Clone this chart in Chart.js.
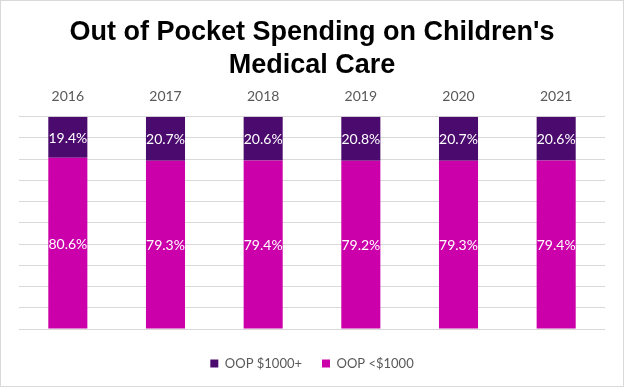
<!DOCTYPE html>
<html>
<head>
<meta charset="utf-8">
<script src="https://cdn.jsdelivr.net/npm/chart.js@4"></script>
<style>
html,body{margin:0;padding:0;background:#fff;}
#wrap{position:relative;width:624px;height:387px;}
</style>
</head>
<body>
<div id="wrap"><canvas id="c" width="624" height="387"></canvas></div>
<script>
const years = ['2016','2017','2018','2019','2020','2021'];
const oopUnder1000 = [80.6, 79.3, 79.4, 79.2, 79.3, 79.4];
const oop1000Plus = [19.4, 20.7, 20.6, 20.8, 20.7, 20.6];
const seriesNames = ['OOP <$1000', 'OOP $1000+'];
const titleLines = ["Out of Pocket Spending on Children's", 'Medical Care'];

const labelPlugin = {
  id: 'segLabels',
  afterDatasetsDraw(chart) {
    const ctx = chart.ctx;
    ctx.save();
    ctx.fillStyle = '#ffffff';
    ctx.font = '14px Lato, "Liberation Sans", sans-serif';
    ctx.textAlign = 'center';
    ctx.textBaseline = 'middle';
    chart.data.datasets.forEach((ds, di) => {
      const meta = chart.getDatasetMeta(di);
      meta.data.forEach((bar, i) => {
        const p = bar.getProps(['x','y','base'], true);
        const cy = (p.y + p.base) / 2;
        ctx.fillText(ds.data[i].toFixed(1) + '%', p.x, cy + 1);
      });
    });
    ctx.restore();
  }
};
const borderPlugin = {
  id: 'frame',
  afterDraw(chart) {
    const ctx = chart.ctx;
    ctx.save();
    ctx.strokeStyle = '#d9d9d9';
    ctx.lineWidth = 1;
    ctx.strokeRect(0.5, 0.5, chart.width - 1, chart.height - 1);
    ctx.restore();
  }
};

new Chart(document.getElementById('c'), {
  type: 'bar',
  data: {
    labels: years,
    datasets: [
      { label: seriesNames[0], data: oopUnder1000, backgroundColor: '#CC00AA' },
      { label: seriesNames[1], data: oop1000Plus, backgroundColor: '#4B0A6E' }
    ]
  },
  options: {
    responsive: false,
    animation: false,
    layout: { padding: { left: 19, right: 19, top: 8, bottom: 7 } },
    datasets: { bar: { barPercentage: 0.4, categoryPercentage: 1.0 } },
    scales: {
      x: {
        position: 'top',
        stacked: true,
        grid: { display: false },
        border: { display: false },
        ticks: { color: '#595959', font: { family: 'Lato, "Liberation Sans", sans-serif', size: 14 }, padding: 4 }
      },
      xb: {
        position: 'bottom',
        type: 'category',
        display: true,
        grid: { display: false },
        border: { display: false },
        ticks: { display: false },
        afterFit(s) { s.height = 8; }
      },
      y: {
        stacked: true,
        min: 0, max: 100,
        ticks: { display: false, stepSize: 10 },
        grid: { color: '#d9d9d9', lineWidth: 1, drawTicks: false },
        border: { display: false }
      }
    },
    plugins: {
      title: {
        display: true,
        text: titleLines,
        color: '#000000',
        font: { family: '"Liberation Sans", Arial, sans-serif', size: 27, weight: 'bold', lineHeight: 1.22 },
        padding: { top: 8, bottom: 2 }
      },
      legend: {
        position: 'bottom',
        reverse: true,
        labels: {
          boxWidth: 8, boxHeight: 8,
          color: '#595959',
          font: { family: 'Lato, "Liberation Sans", sans-serif', size: 13 },
          padding: 20
        }
      },
      tooltip: { enabled: false }
    }
  },
  plugins: [labelPlugin, borderPlugin]
});
</script>
</body>
</html>
